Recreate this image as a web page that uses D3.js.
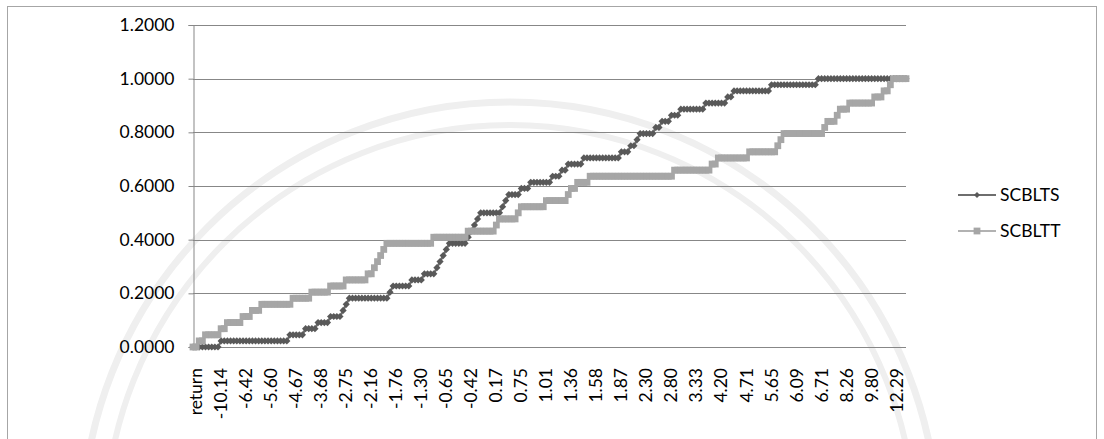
<!DOCTYPE html>
<html>
<head>
<meta charset="utf-8">
<script src="https://cdn.jsdelivr.net/npm/d3@7"></script>
<style>
  html, body { margin: 0; padding: 0; background: #ffffff; }
  svg { display: block; }
  text { font-family: Lato, "Liberation Sans", sans-serif; fill: #000; }
</style>
</head>
<body>
<svg id="chart" width="1104" height="439"></svg>
<script>
// Cumulative share of observations at or below each sorted return
const seriesNames = ["SCBLTS", "SCBLTT"];

// Category axis: one label for every eighth sorted return
const labelStep = 8;
const tickLabels = ["return", "-10.14", "-6.42", "-5.60", "-4.67", "-3.68", "-2.75", "-2.16",
  "-1.76", "-1.30", "-0.65", "-0.42", "0.17", "0.75", "1.01", "1.36", "1.58", "1.87",
  "2.30", "2.80", "3.33", "4.20", "4.71", "5.65", "6.09", "6.71", "8.26", "9.80", "12.29"];

const yTicks = [0, 0.2, 0.4, 0.6, 0.8, 1.0, 1.2];

const scblts = [
  0, 0, 0, 0, 0, 0, 0, 0, 0,
  0.0227, 0.0227, 0.0227, 0.0227, 0.0227, 0.0227, 0.0227, 0.0227, 0.0227, 0.0227, 0.0227,
  0.0227, 0.0227, 0.0227, 0.0227, 0.0227, 0.0227, 0.0227, 0.0227, 0.0227, 0.0227, 0.0227,
  0.0455, 0.0455, 0.0455, 0.0455, 0.0455,
  0.0682, 0.0682, 0.0682, 0.0682,
  0.0909, 0.0909, 0.0909, 0.0909,
  0.1136, 0.1136, 0.1136, 0.1136,
  0.1364,
  0.1591,
  0.1818, 0.1818, 0.1818, 0.1818, 0.1818, 0.1818, 0.1818, 0.1818, 0.1818, 0.1818, 0.1818, 0.1818, 0.1818,
  0.2045,
  0.2273, 0.2273, 0.2273, 0.2273, 0.2273, 0.2273,
  0.2500, 0.2500, 0.2500, 0.2500,
  0.2727, 0.2727, 0.2727, 0.2727,
  0.2955,
  0.3182,
  0.3409,
  0.3636,
  0.3864, 0.3864, 0.3864, 0.3864, 0.3864, 0.3864,
  0.4091,
  0.4318,
  0.4545,
  0.4773,
  0.5000, 0.5000, 0.5000, 0.5000, 0.5000, 0.5000, 0.5000,
  0.5227,
  0.5455,
  0.5682, 0.5682, 0.5682, 0.5682,
  0.5909, 0.5909, 0.5909,
  0.6136, 0.6136, 0.6136, 0.6136, 0.6136, 0.6136, 0.6136,
  0.6364, 0.6364, 0.6364,
  0.6591, 0.6591,
  0.6818, 0.6818, 0.6818, 0.6818, 0.6818,
  0.7045, 0.7045, 0.7045, 0.7045, 0.7045, 0.7045, 0.7045, 0.7045, 0.7045, 0.7045, 0.7045, 0.7045,
  0.7273, 0.7273, 0.7273,
  0.7500, 0.7500,
  0.7727,
  0.7955, 0.7955, 0.7955, 0.7955, 0.7955,
  0.8182, 0.8182,
  0.8409, 0.8409, 0.8409,
  0.8636, 0.8636, 0.8636,
  0.8864, 0.8864, 0.8864, 0.8864, 0.8864, 0.8864, 0.8864, 0.8864,
  0.9091, 0.9091, 0.9091, 0.9091, 0.9091, 0.9091, 0.9091,
  0.9318, 0.9318,
  0.9545, 0.9545, 0.9545, 0.9545, 0.9545, 0.9545, 0.9545, 0.9545, 0.9545, 0.9545, 0.9545, 0.9545,
  0.9773, 0.9773, 0.9773, 0.9773, 0.9773, 0.9773, 0.9773, 0.9773, 0.9773, 0.9773, 0.9773, 0.9773,
  0.9773, 0.9773, 0.9773,
  1, 1, 1, 1, 1, 1, 1, 1, 1, 1, 1, 1, 1, 1, 1, 1, 1, 1, 1, 1, 1, 1, 1, 1, 1, 1, 1, 1, 1
];

const scbltt = [
  0, 0,
  0.0227, 0.0227,
  0.0455, 0.0455, 0.0455, 0.0455, 0.0455,
  0.0682, 0.0682,
  0.0909, 0.0909, 0.0909, 0.0909, 0.0909,
  0.1136, 0.1136, 0.1136,
  0.1364, 0.1364, 0.1364,
  0.1591, 0.1591, 0.1591, 0.1591, 0.1591, 0.1591, 0.1591, 0.1591, 0.1591, 0.1591,
  0.1818, 0.1818, 0.1818, 0.1818, 0.1818, 0.1818,
  0.2045, 0.2045, 0.2045, 0.2045, 0.2045, 0.2045,
  0.2273, 0.2273, 0.2273, 0.2273, 0.2273,
  0.2500, 0.2500, 0.2500, 0.2500, 0.2500, 0.2500, 0.2500,
  0.2727, 0.2727,
  0.2955,
  0.3182,
  0.3409,
  0.3636,
  0.3864, 0.3864, 0.3864, 0.3864, 0.3864, 0.3864, 0.3864, 0.3864, 0.3864, 0.3864, 0.3864, 0.3864,
  0.3864, 0.3864, 0.3864,
  0.4091, 0.4091, 0.4091, 0.4091, 0.4091, 0.4091, 0.4091, 0.4091, 0.4091, 0.4091, 0.4091,
  0.4318, 0.4318, 0.4318, 0.4318, 0.4318, 0.4318, 0.4318, 0.4318, 0.4318,
  0.4545,
  0.4773, 0.4773, 0.4773, 0.4773, 0.4773, 0.4773,
  0.5000,
  0.5227, 0.5227, 0.5227, 0.5227, 0.5227, 0.5227, 0.5227, 0.5227,
  0.5455, 0.5455, 0.5455, 0.5455, 0.5455, 0.5455, 0.5455,
  0.5682,
  0.5909, 0.5909,
  0.6136, 0.6136, 0.6136, 0.6136,
  0.6364, 0.6364, 0.6364, 0.6364, 0.6364, 0.6364, 0.6364, 0.6364, 0.6364, 0.6364, 0.6364, 0.6364,
  0.6364, 0.6364, 0.6364, 0.6364, 0.6364, 0.6364, 0.6364, 0.6364, 0.6364, 0.6364, 0.6364, 0.6364,
  0.6364, 0.6364, 0.6364,
  0.6591, 0.6591, 0.6591, 0.6591, 0.6591, 0.6591, 0.6591, 0.6591, 0.6591, 0.6591, 0.6591, 0.6591,
  0.6818, 0.6818,
  0.7045, 0.7045, 0.7045, 0.7045, 0.7045, 0.7045, 0.7045, 0.7045, 0.7045, 0.7045,
  0.7273, 0.7273, 0.7273, 0.7273, 0.7273, 0.7273, 0.7273, 0.7273, 0.7273,
  0.7500,
  0.7727,
  0.7955, 0.7955, 0.7955, 0.7955, 0.7955, 0.7955, 0.7955, 0.7955, 0.7955, 0.7955, 0.7955, 0.7955, 0.7955,
  0.8182,
  0.8409, 0.8409, 0.8409,
  0.8636,
  0.8864, 0.8864, 0.8864,
  0.9091, 0.9091, 0.9091, 0.9091, 0.9091, 0.9091, 0.9091, 0.9091,
  0.9318, 0.9318, 0.9318,
  0.9545, 0.9545,
  0.9773,
  1, 1, 1, 1, 1
];

const seriesColors = ["#595959", "#a6a6a6"];
const lineColors = ["#6e6e6e", "#b2b2b2"];

const svg = d3.select("#chart");
const plot = { left: 193, right: 906, top: 25, bottom: 347 };

// Outer chart frame
svg.append("rect")
  .attr("x", 7.5).attr("y", 6.5)
  .attr("width", 1089).attr("height", 440)
  .attr("fill", "#ffffff")
  .attr("stroke", "#a6a6a6").attr("stroke-width", 1);

// Faint page seal behind the chart
const seal = svg.append("g").attr("fill", "none").attr("stroke", "#efefef");
seal.append("circle").attr("cx", 510).attr("cy", 530).attr("r", 428).attr("stroke-width", 7);
seal.append("circle").attr("cx", 510).attr("cy", 530).attr("r", 405).attr("stroke-width", 6);

const x = d3.scalePoint()
  .domain(d3.range(scblts.length))
  .range([plot.left, plot.right]);

const y = d3.scaleLinear()
  .domain([0, 1.2])
  .range([plot.bottom, plot.top]);

// Horizontal gridlines
svg.append("g")
  .selectAll("line")
  .data(yTicks)
  .join("line")
  .attr("x1", plot.left).attr("x2", plot.right)
  .attr("y1", d => Math.round(y(d)) + 0.5)
  .attr("y2", d => Math.round(y(d)) + 0.5)
  .attr("stroke", "#878787").attr("stroke-width", 1);

// Value axis
const yAxis = d3.axisLeft(y)
  .tickValues(yTicks)
  .tickFormat(d3.format(".4f"))
  .tickSize(5)
  .tickPadding(14);

const gy = svg.append("g")
  .attr("transform", `translate(${plot.left + 0.5},0)`)
  .call(yAxis);
gy.select(".domain").attr("stroke", "#878787");
gy.selectAll(".tick line").attr("stroke", "#878787");
gy.selectAll(".tick text")
  .attr("font-size", 17.5)
  .attr("font-family", "Lato, 'Liberation Sans', sans-serif")
  .attr("fill", "#000");

// Category axis labels, rotated
const labelData = tickLabels.map((t, j) => ({ label: t, idx: j * labelStep }));
svg.append("g")
  .selectAll("text")
  .data(labelData)
  .join("text")
  .attr("transform", d => `translate(${x(d.idx) + 3},${plot.bottom + 21}) rotate(-90)`)
  .attr("text-anchor", "end")
  .attr("dy", "0.35em")
  .attr("font-size", 17.5)
  .text(d => d.label);

// Series drawing helpers
const diamond = r => `M0,${-r}L${r},0L0,${r}L${-r},0Z`;
const square = r => `M${-r},${-r}H${r}V${r}H${-r}Z`;
const markers = [diamond(3.6), square(3.4)];

const allSeries = [scblts, scbltt];
const line = d3.line().x((d, i) => x(i)).y(d => y(d));

allSeries.forEach((vals, s) => {
  const g = svg.append("g");
  g.append("path")
    .attr("d", line(vals))
    .attr("fill", "none")
    .attr("stroke", lineColors[s])
    .attr("stroke-width", 2.25)
    .attr("stroke-linejoin", "round");
  g.selectAll("path.m")
    .data(vals)
    .join("path")
    .attr("class", "m")
    .attr("transform", (d, i) => `translate(${x(i)},${y(d)})`)
    .attr("d", markers[s])
    .attr("fill", seriesColors[s]);
});

// Legend
const legendY = [195, 231];
const leg = svg.append("g");
seriesNames.forEach((name, s) => {
  const ly = legendY[s];
  leg.append("line")
    .attr("x1", 958).attr("x2", 996)
    .attr("y1", ly).attr("y2", ly)
    .attr("stroke", lineColors[s]).attr("stroke-width", 2);
  leg.append("path")
    .attr("transform", `translate(977,${ly})`)
    .attr("d", s === 0 ? diamond(3) : square(3.4))
    .attr("fill", seriesColors[s]);
  leg.append("text")
    .attr("x", 1000).attr("y", ly)
    .attr("dy", "0.36em")
    .attr("font-size", 17.5)
    .text(name);
});
</script>
</body>
</html>
